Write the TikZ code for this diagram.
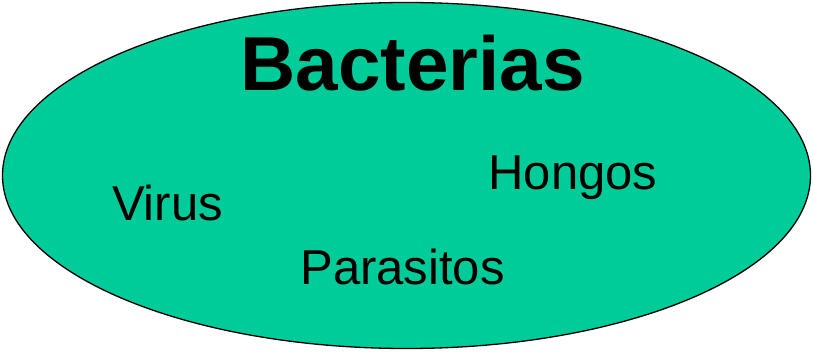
\documentclass[tikz,border=0pt]{standalone}
\usepackage{fontspec}
\setmainfont{Liberation Sans}
\definecolor{GermFill}{HTML}{00CC99}

\begin{document}
\begin{tikzpicture}[x=1pt, y=1pt,
            blob/.style={draw=black, line width=1.3pt, fill=GermFill},
            label/.style={inner sep=0pt, anchor=base, font=\fontsize{49}{53}\selectfont},
            title/.style={label, font=\fontsize{76.5}{81}\selectfont\bfseries}]
            \useasboundingbox (0,0) rectangle (813,351);

            % la elipse
            \draw[blob] (406.5,175.5) ellipse [x radius=404, y radius=173];

            % textos
            \node[title] (bact) at (412.7,260.3) {Bacterias};
            \node[label] (vir)  at (167.5,131)   {Virus};
            \node[label] (hong) at (573,161)     {Hongos};
            \node[label] (para) at (402.5,67)    {Parasitos};
        \end{tikzpicture}
\end{document}
